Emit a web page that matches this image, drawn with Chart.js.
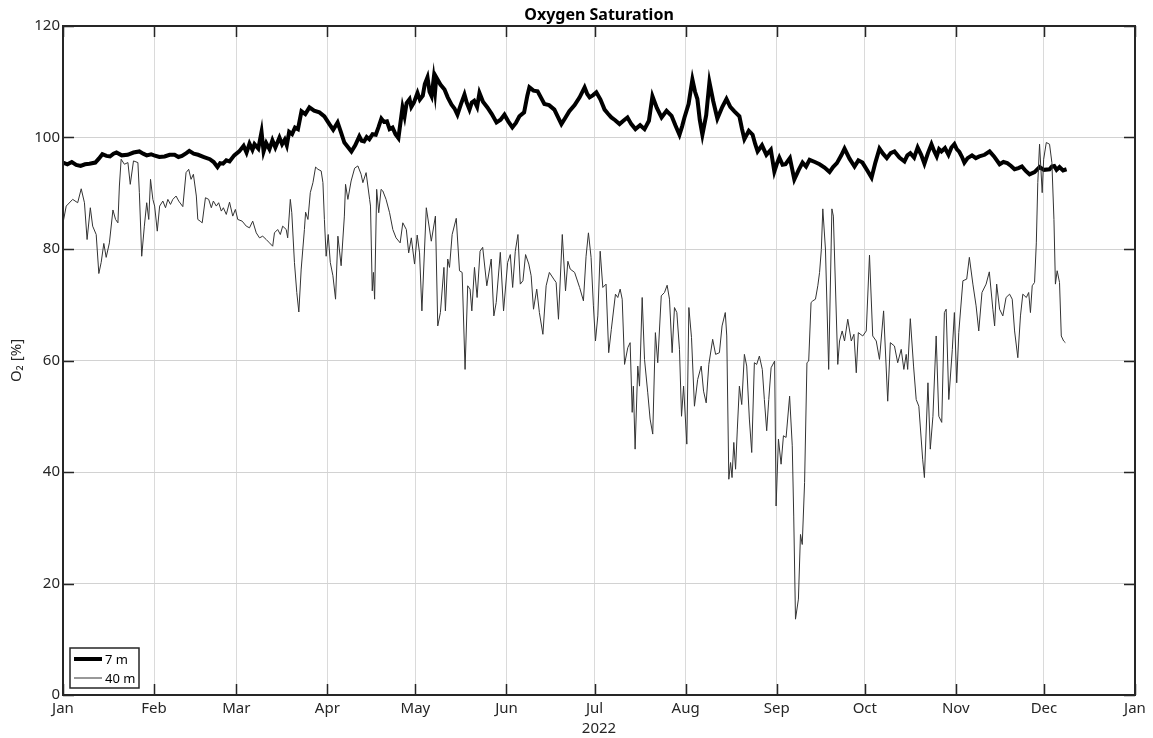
<!DOCTYPE html>
<html>
<head>
<meta charset="utf-8">
<script src="https://cdn.jsdelivr.net/npm/chart.js@4.4.1/dist/chart.umd.min.js"></script>
<style>
    html, body { margin: 0; padding: 0; background: #ffffff; }
    #wrap { width: 1153px; height: 738px; position: relative; }
</style>
</head>
<body>
<div id="wrap"><canvas id="chart-o2"></canvas></div>
<script>
// 氧饱和度时间序列 (2022)

// x 轴: 距 1 月 1 日的天数
const monthDays = [0, 31, 59, 90, 120, 151, 181, 212, 243, 273, 304, 334, 365];
const monthLabels = ['Jan', 'Feb', 'Mar', 'Apr', 'May', 'Jun', 'Jul', 'Aug', 'Sep', 'Oct', 'Nov', 'Dec', 'Jan'];
const yTicks = [0, 20, 40, 60, 80, 100, 120];

// 7 m
const days7 = [
    0, 1.5, 3, 4.5, 6, 7.5, 9, 11, 12.2, 13.4, 14.8, 16, 17.2, 18.2, 20, 22, 24, 26, 27.3, 28.5,
    30, 31, 32.8, 34.6, 36.3, 38, 39.3, 40.5, 42, 43, 44.5, 46, 48, 50, 51.3, 52.6, 53.5, 54.5, 55.6, 56.7, 58.3,
    60, 61.5, 62.5, 63.5, 64.5, 65.2, 66.5, 67.6, 68.3, 69.2, 70.3, 71.3, 72.3, 73.7, 74.6, 75.5, 76.2,
    77, 78, 79, 80,
    81.2, 82.5, 83.9, 85.5, 87.3, 89, 90.7, 92, 93.5, 94.6, 95.8, 97, 98.2, 99.5, 100.9, 101.7, 102.5,
    103.4, 104.3, 105.4, 106.5, 107.4, 108.4, 109.3, 110.3, 111.2, 112.2, 113.2, 114.2, 115.6, 116.3,
    117, 118, 118.6, 119.5, 120.7, 121.5, 122.5, 123.2, 124.1, 124.8, 125.5, 126.2, 126.7, 127.1,
    128.5, 129.9, 131, 132.3, 133.3, 134.3, 135.5, 136.7, 137.5, 138.4, 139.2, 140, 141, 141.8, 143,
    144.5, 146, 147.6, 149, 150.3, 151.6, 153, 154.2, 155.4, 157, 158.1, 158.8, 160.2, 161.6, 162.8,
    163.9, 165.5, 167.3, 168.5, 169.7, 171, 172.4, 174.2, 175.9, 177.6, 178.5, 179.3, 180.5, 181.6,
    183, 184.4, 185.5, 186.7, 188, 189.5, 190.8, 192.2, 193.5, 194.9, 196.5, 198, 199.5, 200.7, 202.2,
    203.8, 205.5, 207.2, 208.5, 209.9, 210.8, 211.6, 213, 214.3, 215.2, 216, 216.8, 217.7, 219, 220.1,
    221.4, 222.8, 224.5, 225.9, 227.2, 228.6, 230.3, 231.2, 232, 233.5, 234.8, 235.7, 236.5, 238,
    239.5, 241, 242.2, 243, 243.9, 245, 246, 247.5, 249, 250.5, 251.8, 253, 254.2, 256, 257.6, 259.3,
    261, 262.2, 263.5, 265, 266.1, 267.8, 269.5, 270.8, 272.2, 273.7, 275.3, 276.6, 278, 279.2, 280.5,
    281.8, 283.1, 284.8, 286.5, 287.5, 288.5, 289.8, 291, 292.2, 293.3, 294.5, 295.7, 296.6, 297.5,
    298.3, 299.1, 300.3, 301.5, 302.5, 303.5, 304.3, 305.2, 306.1, 306.9, 308, 309.5, 310.8, 312,
    313.8, 315.5, 317, 318.9, 320.2, 321.5, 322.8, 324, 325.3, 326.5, 327.8, 329.1, 330.8, 332.5, 334,
    335.9, 336.7, 337.5, 338.3, 339.3, 340.5, 341.7
];
const o2_7 = [
    95.5, 95.2, 95.6, 95.1, 94.9, 95.2, 95.3, 95.5, 96.2, 97, 96.7, 96.6, 97.1, 97.3, 96.8, 96.9, 97.3, 97.5, 97.1, 96.8,
    97, 96.8, 96.5, 96.6, 96.9, 96.9, 96.5, 96.7, 97.2, 97.6, 97.1, 96.9, 96.5, 96.1, 95.6, 94.7, 95.4, 95.3, 95.9, 95.7, 96.8,
    97.5, 98.5, 97.3, 98.9, 97.8, 98.8, 98, 101, 97.5, 99, 97.9, 99.5, 98.2, 100, 98.8, 99.6, 98.6,
    101, 100.6, 101.8, 101.5,
    104.7, 104.2, 105.4, 104.8, 104.5, 103.8, 102.4, 101.4, 102.7, 101, 99.1, 98.3, 97.5, 98.6, 100.2, 99.4, 99.3,
    100.1, 99.7, 100.6, 100.5, 101.8, 103.4, 102.8, 102.9, 101.5, 101.8, 100.6, 99.9, 105.4, 103.8,
    106.2, 106.9, 105.5, 106.3, 108, 106.8, 107.5, 109.6, 110.8, 108.2, 107.4, 110.5, 108.3, 110.8,
    109.5, 108.6, 107.2, 105.9, 105.2, 104.1, 106, 107.7, 106.2, 105, 106.3, 106.6, 105.5, 108, 106.4,
    105.4, 104.2, 102.7, 103.2, 104.1, 102.9, 101.8, 102.6, 103.8, 104.5, 107.5, 109, 108.4, 108.3, 107.1,
    106, 105.8, 105, 103.7, 102.4, 103.5, 104.7, 105.8, 107.2, 109, 107.8, 107.2, 107.6, 108.1,
    106.8, 105, 104.3, 103.6, 103.1, 102.4, 103, 103.6, 102.4, 101.5, 102.2, 101.5, 103, 107.4, 105.3,
    103.6, 104.8, 103.9, 102.2, 100.5, 102, 103.6, 106, 110.4, 108.2, 106.9, 103.2, 100.5, 104, 109.9,
    106.5, 103.4, 105.5, 106.9, 105.5, 104.7, 103.8, 101.5, 99.7, 101.2, 100.5, 98.8, 97.5, 98.6,
    96.9, 97.8, 93.9, 95.2, 96.4, 95.1, 95.2, 96.3, 92.5, 94.2, 95.5, 94.8, 96, 95.6, 95.2, 94.6,
    93.8, 94.7, 95.4, 96.8, 98, 96.2, 94.8, 95.9, 95.5, 94.2, 92.8, 95.5, 98, 97.1, 96.3,
    97.2, 97.5, 96.4, 95.7, 96.8, 97.2, 96.4, 98.2, 96.9, 95.3, 97.2, 98.8, 97.6, 96.6,
    97.9, 97.5, 98.1, 96.9, 98.2, 98.8, 97.9, 97.4, 96.5, 95.5, 96.3, 96.8, 96.3, 96.6,
    96.9, 97.5, 96.6, 95.2, 95.6, 95.4, 94.9, 94.3, 94.5, 94.8, 94, 93.4, 93.8, 94.7, 94.2,
    94.3, 94.8, 94.9, 94.2, 94.7, 94.1, 94.3
];

// 40 m
const days40 = [
    0, 1.1, 3.3, 5, 6.2, 7.3, 8.2, 9.3, 10.1, 11.3, 12.2, 13, 13.9, 14.7, 15.8, 17, 17.9, 18.7, 19.2, 19.8,
    20.9, 22.1, 22.9, 24, 25.5, 26, 26.8, 27.7, 28.5, 29.2, 29.8, 30.6, 31.2, 32.1, 32.9, 34, 34.9, 35.7,
    36.6, 37.4, 38.5, 39.4, 40.8, 41.9, 42.8, 43.6, 44.4, 45.4, 45.9, 46.7, 47.4, 48.5, 49.6, 50.5, 51.2,
    52.2, 53, 53.9, 54.6, 55.6, 56.7, 57.8, 58.7, 59.5, 61, 62.4, 63.5, 64.6, 65.8, 66.9, 68, 69.2, 70.3,
    71.4, 72, 73.1, 74, 74.8, 76, 76.5, 77.4, 77.9, 78.8, 79.6, 80.3, 81.1, 82.2, 82.6, 83.4, 84.2, 85.1,
    86, 86.8, 87.9, 88.5, 89, 89.6, 90.3, 91, 91.9, 92.8, 93.6, 94.7, 95.8, 96.2, 97, 98.1, 99.3, 100.4,
    101.5, 102.1, 103.2, 104.4, 104.7, 105.3, 105.7, 106.1, 106.8, 107.5, 108.3, 108.9, 110, 111.2, 112.3,
    113.4, 114.8, 115.7, 116.9, 117.7, 118.6, 119.7, 120.6, 121.4, 122.2, 123.7, 125.4, 126.8, 127.6,
    128.5, 129.7, 130.2, 131, 131.6, 132.5, 133.9, 135, 135.9, 136.9, 137.8, 138.6, 139.2, 140.1, 141,
    142, 142.9, 144.3, 145.8, 146.7, 147.5, 148.9, 150, 151.4, 152.3, 153.1, 154, 154.9, 155.7, 156.6,
    157.5, 158.6, 159.4, 160.2, 161.3, 162.2, 163.4, 164.5, 165.6, 167.1, 167.9, 168.7, 170, 171.1,
    171.9, 172.7, 174.2, 175.9, 177.2, 178.1, 178.9, 179.8, 180.6, 181.3, 182.1, 182.9, 183.8, 184.9,
    185.8, 186.7, 188.1, 188.9, 189.7, 190.4, 191.2, 192.3, 193.1, 193.8, 194.2, 194.8, 195.7, 196.3,
    197.2, 198, 199.1, 199.9, 200.8, 201.7, 202.5, 203.7, 204.8, 205.7, 206.5, 207.4, 208.2, 209, 209.9,
    210.6, 211.3, 212.4, 213.1, 214, 215, 216.1, 217.3, 218.1, 219, 219.9, 221.2, 222.2, 223.5, 224.4,
    225.5, 226, 226.7, 227.3, 227.8, 228.4, 229, 229.6, 230.3, 231.1, 232, 232.8, 233.7, 234.5, 235.4,
    236.2, 237.1, 238.1, 238.8, 239.6, 240.3, 241.1, 242.3, 242.8, 243.6, 244.5, 245.3, 246.2, 247.4,
    248.3, 248.8, 249.4, 250.4, 251.1, 251.7, 252.5, 253.3, 253.9, 254.7, 255.3, 256.2, 257, 257.6,
    258.2, 258.7, 259.6, 260.7, 261.8, 262.3, 263.8, 264.4, 265.3, 266.1, 267.2, 268.4, 269.3, 270.1,
    270.8, 272.3, 273.5, 274.6, 275.7, 276.9, 278, 279.4, 280.8, 281.7, 283.1, 284.2, 285.4, 286.3,
    287.1, 287.6, 288.5, 289.6, 290.5, 291.4, 292.7, 293.3, 294.5, 295.3, 296.2, 297.3, 298.2, 299.2,
    300.1, 300.7, 301.6, 302.8, 303.5, 304.3, 305, 306.4, 307.7, 308.6, 309.8, 310.9, 311.8, 312.9,
    314.3, 315.4, 316.6, 317.2, 317.9, 318.9, 320, 321.1, 322.3, 323.2, 324, 325.1, 326, 326.8, 328,
    328.8, 329.4, 330, 330.8, 331.4, 331.9, 332.5, 333.4, 333.9, 334.8, 335.9, 336.7, 337.4, 337.9,
    338.5, 339.3, 339.9, 340.7, 341.3
];
const o2_40 = [
    84.7, 87.7, 88.9, 88.3, 90.8, 88.3, 81.7, 87.4, 84.1, 82.6, 75.6, 77.6, 81, 78.5, 81.1, 87, 85.3, 84.7, 91.3, 96.1,
    95.2, 95.5, 91.6, 95.8, 95.5, 90.1, 78.7, 84.1, 88.3, 85.3, 92.5, 88.9, 87.7, 83.2, 87.7, 88.6, 87.4, 88.9,
    88, 88.9, 89.5, 88.6, 87.6, 93.7, 94.3, 92.5, 93.4, 89.5, 85.3, 85, 84.7, 89.2, 88.9, 87.4, 88.6,
    87.7, 88.3, 86.8, 87.4, 86.2, 88.4, 85.9, 87.1, 85.3, 85, 84.1, 83.8, 85, 82.9, 82, 82.3, 81.7, 81.1,
    80.5, 82.9, 83.5, 82.6, 84.1, 83.5, 82, 88.9, 86.5, 77.6, 72.2, 68.7, 76.4, 83.5, 86.6, 85.3, 90.1, 91.9,
    94.7, 94.3, 94, 91.9, 85.3, 78.7, 82.6, 77.6, 75.2, 71, 82.3, 77, 85.9, 91.6, 88.9, 92.2, 94.5, 94.9,
    93.4, 91.9, 93.7, 88.9, 87.7, 72.5, 75.8, 71, 90.7, 86.5, 90.7, 90.4, 88.9, 86.5, 83.5,
    82, 81.1, 84.7, 83.5, 79.3, 82, 77.3, 82.5, 79.3, 68.9, 87.4, 81.4, 85.9, 66.2,
    68.6, 76.7, 68.9, 78.2, 76.7, 82.6, 85.5, 76.1, 75.8, 58.4, 73.4, 72.8, 68.9, 76.7, 71.3,
    79.6, 80.3, 73.4, 78.2, 68, 70.4, 79.4, 68.9, 77.6, 79, 73.1, 79.6, 82.6, 73.7, 74.3,
    79, 77.3, 75.2, 69.2, 72.8, 68.6, 64.7, 73.4, 75.8, 74.6, 74, 67.4, 82.6, 72.5,
    77.8, 76.4, 75.8, 73.1, 70.7, 78.7, 82.9, 78.5, 69.8, 63.5, 68, 79.6, 73.1, 73.7,
    61.4, 65.6, 71.9, 71.3, 72.8, 71, 59.3, 62.3, 63.2, 50.7, 55.4, 44.1, 59, 55.4,
    71.3, 60.2, 54.2, 49.5, 46.8, 65, 59.6, 71.6, 72.2, 73.5, 71, 61.4, 69.5, 68.6, 62,
    50, 55.4, 45, 69.5, 64.1, 51.8, 56.6, 59, 54.5, 52.4, 59.3, 63.8, 61.1, 61.4, 66.2,
    68.6, 64.4, 38.7, 41.7, 39, 45.3, 40.5, 47.7, 55.4, 52.1, 61.1, 59, 49.5, 43.5, 59.6,
    59.3, 60.8, 58.4, 53, 47.4, 53, 58.7, 59.9, 33.9, 45.9, 41.4, 46.5, 46.2, 53.6,
    44.7, 32.1, 13.6, 17.2, 28.8, 27, 38.1, 59.6, 59.9, 70.4, 70.7, 71, 73.4, 75.8,
    79.9, 87.2, 80, 58.4, 87.2, 85.9, 59.3, 63.5, 65.3, 63.5, 67.4, 63.5, 64.7, 57.8,
    65, 64.4, 65.3, 78.9, 64.4, 63.5, 60.2, 68.9, 52.7, 63.2, 62.6, 59.6, 62, 58.4,
    61.1, 58.4, 67.5, 59, 53, 51.8, 42.3, 39, 56, 44.1, 50, 64.4, 50, 48.9,
    68.6, 69.2, 53, 62, 68.6, 56, 65, 74.3, 74.6, 78.5, 73.7, 69.8, 65.3, 72.2,
    73.7, 75.9, 69.2, 66.2, 73.7, 69.2, 68, 71.3, 71.9, 71, 65.3, 60.5, 68, 71.9, 71.3,
    72.2, 68.6, 73.4, 74, 81.1, 91.9, 98.8, 90.1, 96.1, 99.1, 98.8, 95.5, 85.3, 73.7,
    76.1, 74, 64.4, 63.5, 63.2
];

const toPoints = (xs, ys) => xs.map((x, i) => ({ x, y: ys[i] }));

const axisColor = '#262626';
const fontFamily = '"Noto Sans", "DejaVu Sans", sans-serif';

// 边框、向内刻度、标题和图例
const boxPlugin = {
    id: 'boxPlugin',
    afterDraw(chart) {
        const { ctx, chartArea: a, scales } = chart;
        const tickLen = 11;
        ctx.save();
        ctx.strokeStyle = axisColor;
        ctx.lineWidth = 1.5;
        ctx.beginPath();
        scales.x.ticks.forEach(t => {
            const px = Math.round(scales.x.getPixelForValue(t.value)) + 0.5;
            ctx.moveTo(px, a.bottom); ctx.lineTo(px, a.bottom - tickLen);
            ctx.moveTo(px, a.top); ctx.lineTo(px, a.top + tickLen);
        });
        scales.y.ticks.forEach(t => {
            const py = Math.round(scales.y.getPixelForValue(t.value)) + 0.5;
            ctx.moveTo(a.left, py); ctx.lineTo(a.left + tickLen, py);
            ctx.moveTo(a.right, py); ctx.lineTo(a.right - tickLen, py);
        });
        ctx.stroke();
        ctx.lineWidth = 2;
        ctx.strokeRect(a.left, a.top, a.right - a.left, a.bottom - a.top);

        // 标题
        ctx.fillStyle = '#000';
        ctx.font = 'bold 16px ' + fontFamily;
        ctx.textAlign = 'center';
        ctx.textBaseline = 'middle';
        ctx.fillText('Oxygen Saturation', (a.left + a.right) / 2, 15);

        // 图例
        const lx = a.left + 7, ly = a.bottom - 47, lw = 69, lh = 40;
        ctx.fillStyle = '#fff';
        ctx.fillRect(lx, ly, lw, lh);
        ctx.strokeStyle = axisColor;
        ctx.lineWidth = 1.5;
        ctx.strokeRect(lx, ly, lw, lh);
        ctx.font = '13px ' + fontFamily;
        ctx.textAlign = 'left';
        chart.data.datasets.forEach((ds, i) => {
            const yy = ly + 11 + i * 19;
            ctx.strokeStyle = ds.borderColor;
            ctx.lineWidth = ds.borderWidth;
            ctx.beginPath();
            ctx.moveTo(lx + 4, yy); ctx.lineTo(lx + 32, yy);
            ctx.stroke();
            ctx.fillStyle = '#000';
            ctx.fillText(ds.label, lx + 35, yy + 1);
        });
        ctx.restore();
    }
};

document.addEventListener('DOMContentLoaded', () => {
    const canvas = document.getElementById('chart-o2');
    new Chart(canvas.getContext('2d'), {
        type: 'line',
        data: {
            datasets: [
                {
                    label: '7 m',
                    data: toPoints(days7, o2_7),
                    borderColor: '#000000',
                    borderWidth: 4,
                    pointRadius: 0,
                    tension: 0,
                    order: 1
                },
                {
                    label: '40 m',
                    data: toPoints(days40, o2_40),
                    borderColor: '#333333',
                    borderWidth: 1,
                    pointRadius: 0,
                    tension: 0,
                    order: 0
                }
            ]
        },
        options: {
            responsive: true,
            maintainAspectRatio: false,
            animation: false,
            events: [],
            layout: { padding: { top: 26, right: 18, left: 0, bottom: 0 } },
            plugins: {
                legend: { display: false },
                tooltip: { enabled: false },
                title: { display: false }
            },
            scales: {
                x: {
                    type: 'linear',
                    min: 0,
                    max: 365,
                    afterBuildTicks: (scale) => {
                        scale.ticks = monthDays.map(v => ({ value: v }));
                    },
                    afterFit: (scale) => { scale.height = 43; },
                    border: { display: false },
                    grid: { color: '#dadada', lineWidth: 1, drawTicks: false },
                    ticks: {
                        autoSkip: false,
                        maxRotation: 0,
                        padding: 5,
                        color: axisColor,
                        font: { family: fontFamily, size: 15 },
                        callback: (value, index) => monthLabels[index]
                    },
                    title: {
                        display: true,
                        text: '2022',
                        color: axisColor,
                        font: { family: fontFamily, size: 15 },
                        padding: { top: 0, bottom: 0 }
                    }
                },
                y: {
                    min: 0,
                    max: 120,
                    afterBuildTicks: (scale) => {
                        scale.ticks = yTicks.map(v => ({ value: v }));
                    },
                    afterFit: (scale) => { scale.width = 63; },
                    border: { display: false },
                    grid: { color: '#d2d2d2', lineWidth: 1, drawTicks: false },
                    ticks: {
                        padding: 3,
                        color: axisColor,
                        font: { family: fontFamily, size: 15 }
                    },
                    title: {
                        display: true,
                        text: 'O₂ [%]',
                        color: axisColor,
                        font: { family: fontFamily, size: 15 },
                        padding: { top: 8, bottom: 0 }
                    }
                }
            }
        },
        plugins: [boxPlugin]
    });
});
</script>
</body>
</html>
